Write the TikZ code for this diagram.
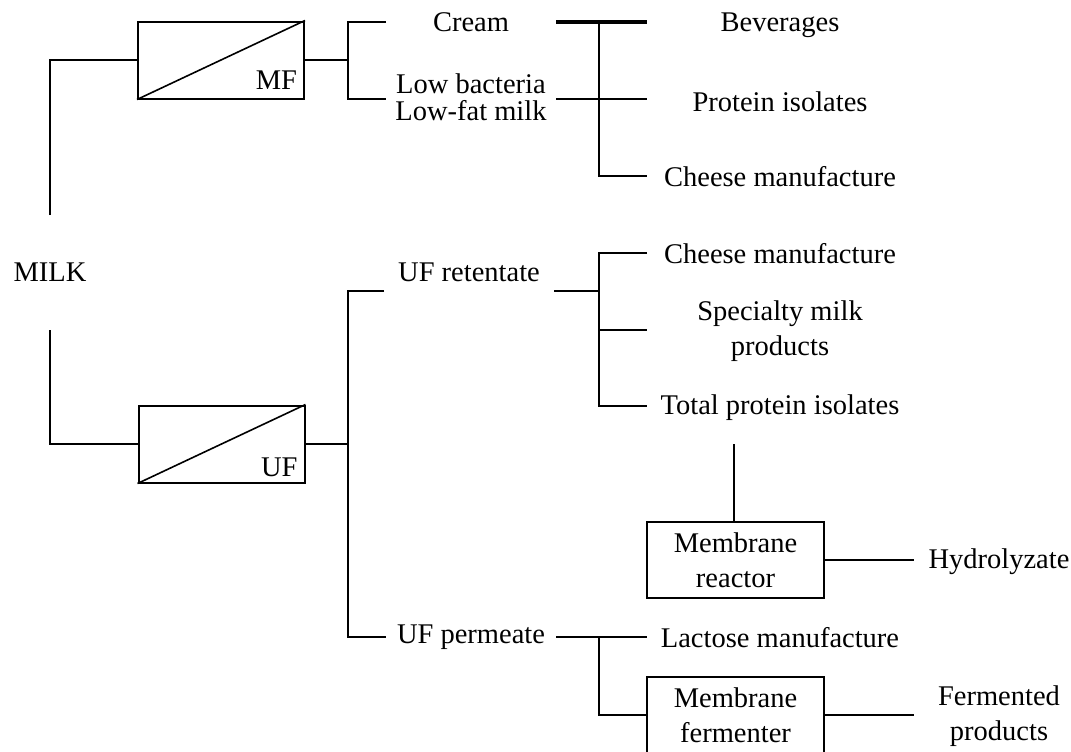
\documentclass[tikz,border=0pt]{standalone}
\usepackage{fontspec}
\setmainfont{Liberation Serif}
\usetikzlibrary{positioning}

\begin{document}
\begin{tikzpicture}[
  x=0.5pt, y=-0.5pt,
  font=\fontsize{14.25}{17.5}\selectfont,
  line width=1pt,
  unit/.style={rectangle, draw, minimum width=83pt, minimum height=38.5pt},
  reactor/.style={rectangle, draw, minimum width=88.5pt, minimum height=38pt, align=center},
  tag/.style={inner sep=0pt},
  mid/.style={minimum width=84pt, inner sep=0pt, align=center},
  use/.style={minimum width=132pt, inner sep=0pt, align=center},
  prod/.style={minimum width=84pt, inner sep=0pt, align=center}
]
\useasboundingbox (0,0) rectangle (1071,751);

\node[minimum height=56.5pt, inner xsep=0pt] (milk) at (50,272.5) {MILK};
\node[unit] (mf) at (221,60) {};
\node[unit] (uf) at (221.5,444) {};
\draw[line width=0.8pt] (mf.south west) -- (mf.north east);
\draw[line width=0.8pt] (uf.south west) -- (uf.north east);
\node[tag, above left=4.5pt and 3.5pt of mf.south east] (mftag) {MF};
\node[tag, above left=3pt and 3.5pt of uf.south east] (uftag) {UF};

\node[mid] (cream) at (471,22) {Cream};
\node[mid, font=\fontsize{14.25}{13.5}\selectfont] (lowb) at (471,97) {Low bacteria\\Low-fat milk};
\node[mid] (ufret) at (469,272) {UF retentate};
\node[mid] (ufperm) at (471,637) {UF permeate};

\node[use] (bev) at (780,25) {Beverages};
\node[use] (prot) at (780,102) {Protein isolates};
\node[use] (chz1) at (780,177) {Cheese manufacture};
\node[use] (chz2) at (780,254) {Cheese manufacture};
\node[use] (spec) at (780,331) {Specialty milk\\products};
\node[use] (tpi) at (780,408) {Total protein isolates};
\node[use] (lact) at (780,638) {Lactose manufacture};

\node[reactor] (mreact) at (735.5,560) {Membrane\\reactor};
\node[reactor] (mferm) at (735.5,715) {Membrane\\fermenter};
\node[prod] (hydro) at (999,562) {Hydrolyzate};
\node[prod] (ferm) at (999,716) {Fermented\\products};

\coordinate (mfj) at (348,61);
\coordinate (ufj) at (348,291);
\coordinate (topj) at (599,22);
\coordinate (retj) at (599,291);
\coordinate (permj) at (599,637);
\coordinate (tpiend) at (734,444);

\draw (milk.north) |- (mf.west);
\draw (milk.south) |- (uf.west);
\draw (mf.east) -- (mf.east -| mfj);
\draw (cream.west) -| (mfj |- 0,99) -- (lowb.west |- 0,99);
\draw[line width=2pt] (cream.east) -- (cream.east -| bev.west);
\draw (lowb.east |- 0,99) -- (prot.west |- 0,99);
\draw (topj) |- (chz1.west |- 0,176);

\draw (uf.east) -- (uf.east -| ufj);
\draw (ufret.west |- ufj) -| (ufj |- ufperm.west) -- (ufperm.west);
\draw (ufret.east |- retj) -- (retj);
\draw (chz2.west |- 0,253) -| (retj |- 0,406) -- (tpi.west |- 0,406);
\draw (retj |- 0,330) -- (spec.west |- 0,330);
\draw (tpiend) -- (tpiend |- mreact.north);
\draw (mreact.east) -- (mreact.east -| hydro.west);
\draw (ufperm.east) -- (ufperm.east -| lact.west);
\draw (permj) |- (mferm.west);
\draw (mferm.east) -- (mferm.east -| ferm.west);
\end{tikzpicture}
\end{document}
